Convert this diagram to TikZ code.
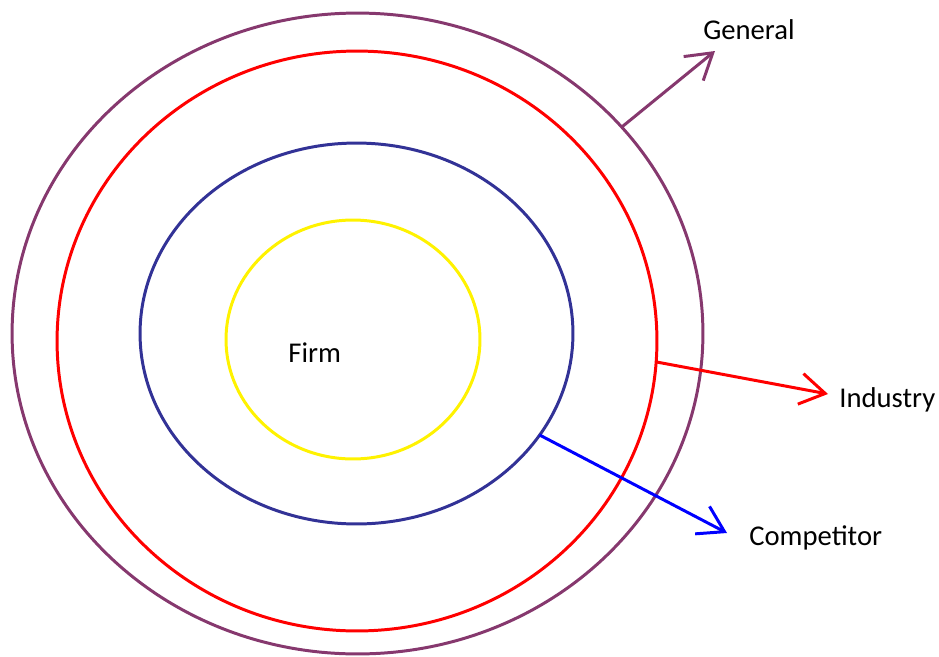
\documentclass[tikz,border=0pt]{standalone}
\usepackage{fontspec}
\setmainfont{Carlito}
\usetikzlibrary{shapes.geometric,arrows.meta}
\definecolor{generalc}{RGB}{134,56,110}
\definecolor{competc}{RGB}{50,50,150}
\tikzset{
	ring/.style={ellipse,line width=1.7pt,inner sep=0pt,outer sep=0pt},
	lbl/.style={anchor=base west,inner sep=0pt,font=\fontsize{16.3}{19}\selectfont},
	pointer/.style={line width=1.7pt,-{Straight Barb[length=0.5cm,width=0.62cm]}}
}
\begin{document}
\begin{tikzpicture}[x=0.02cm,y=-0.02cm]
			\useasboundingbox (0,0) rectangle (939,656);
			
			% Circles
			\node[ring,draw=generalc,minimum width=13.82cm,minimum height=12.82cm] (general) at (357.5,333.5) {};
			\node[ring,draw=red,minimum width=12cm,minimum height=11.6cm] (industry) at (357,341) {};
			\node[ring,draw=competc,minimum width=8.66cm,minimum height=7.62cm] (competitor) at (356.5,333.5) {};
			\node[ring,draw=yellow,minimum width=5.08cm,minimum height=4.78cm] (firm) at (353,339.5) {};
			
			% Labels
			\node[lbl] (firmlbl) at (288,362) {Firm};
			\node[lbl] (generallbl) at (703,39) {General};
			\node[lbl] (industrylbl) at (839,407) {Industry};
			\node[lbl] (competitorlbl) at (749,545) {Competitor};
			
			% Arrows
			\coordinate (gtip) at (715,51);
			\coordinate (itip) at (828,394);
			\coordinate (ctip) at (727,533);
			\draw[pointer,draw=generalc] (general.38.5) -- (gtip);
			\draw[pointer,draw=red] (industry.-4) -- (itip);
			\draw[pointer,draw=blue] (competitor.-29.7) -- (ctip);
			
		\end{tikzpicture}
\end{document}
